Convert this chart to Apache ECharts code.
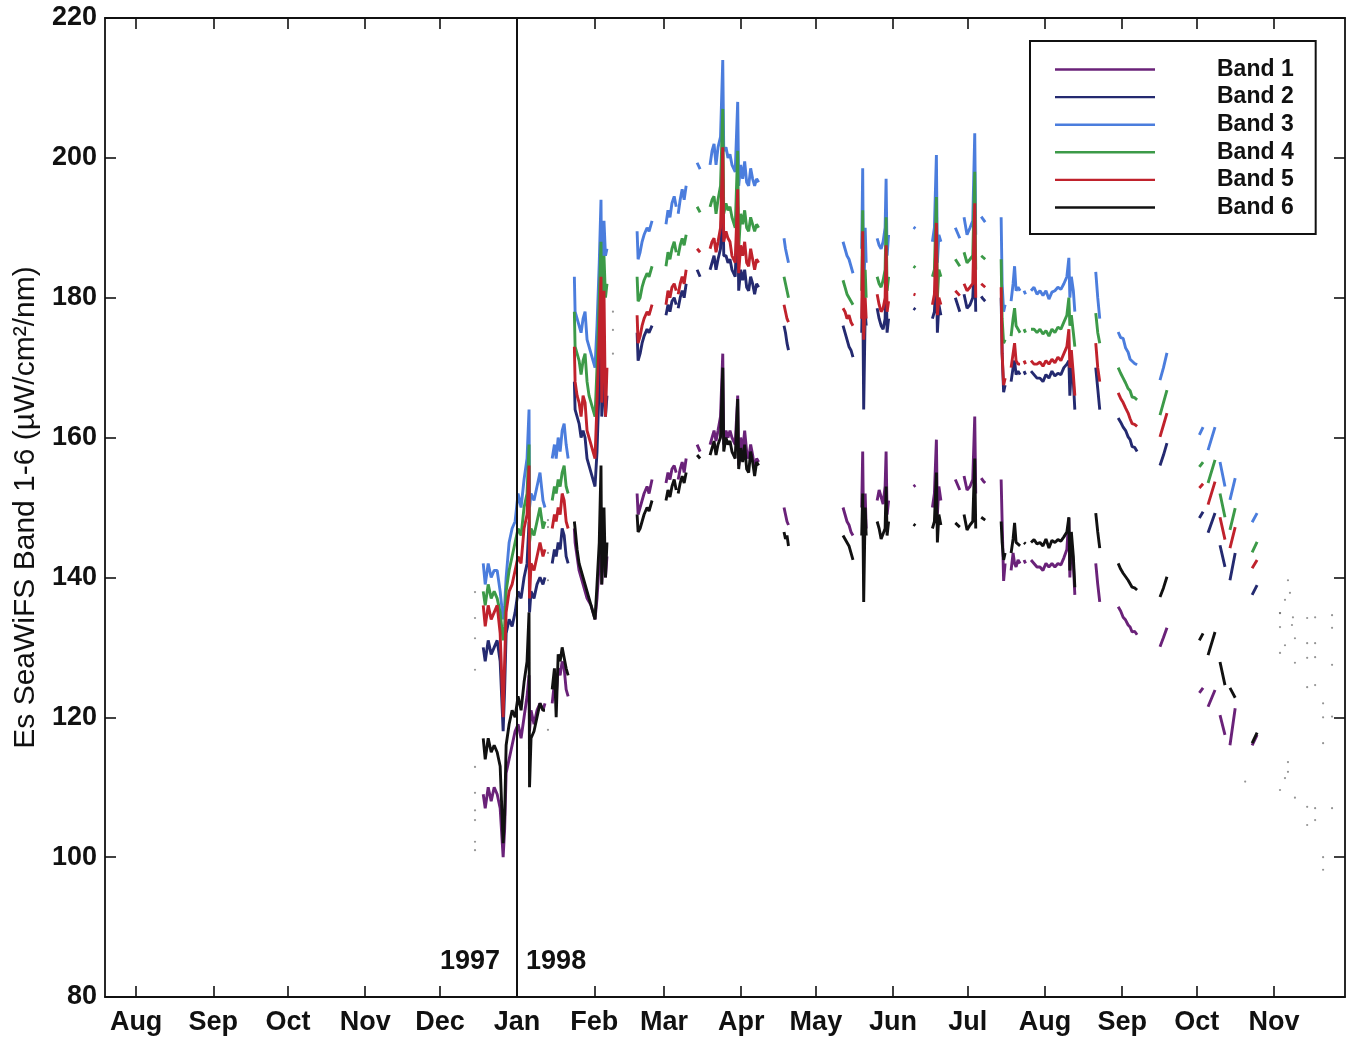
<!DOCTYPE html>
<html>
<head>
<meta charset="utf-8">
<script src="https://cdn.jsdelivr.net/npm/echarts@6/dist/echarts.min.js"></script>
<style>
  html, body { margin: 0; padding: 0; background: #fff; }
  #chart { width: 1353px; height: 1046px; }
</style>
</head>
<body>
<div id="chart"></div>
<script>
// Day numbers count from 1 Jan 1998 (day 0); negative days fall in 1997.
const monthTicks = [-153, -122, -92, -61, -31, 0, 31, 59, 90, 120, 151, 181, 212, 243, 273, 304];
const monthNames = ['Aug', 'Sep', 'Oct', 'Nov', 'Dec', 'Jan', 'Feb', 'Mar', 'Apr', 'May', 'Jun', 'Jul', 'Aug', 'Sep', 'Oct', 'Nov'];
const yearLabels = ['1997', '1998'];
const bandNames = ['Band 1', 'Band 2', 'Band 3', 'Band 4', 'Band 5', 'Band 6'];

// Sampling days of each recorded stretch (stretches are separated by data gaps)
const segDays = [
  [-13.6, -12.8, -11.6, -10.4, -9.2, -8.0, -6.8, -5.6, -5.0, -4.4, -3.2, -2.0, -0.8, 0.4, 1.6, 2.8, 4.0, 4.8, 5.0, 5.6, 6.8, 8.0, 9.2, 10.4, 11.2],
  [14.1, 15.0, 15.7, 16.5, 17.3, 18.1, 18.9, 19.7, 20.5],
  [23.0, 23.3, 24.1, 24.9, 25.7, 26.5, 27.3, 28.1, 28.9, 29.7, 30.5, 31.3, 32.1, 33.0, 33.7, 34.0, 34.9, 35.5, 36.1],
  [48.2, 48.6, 49.4, 50.2, 51.0, 52.2, 53.0, 54.2],
  [59.8, 60.6, 61.4, 62.2, 63.1, 63.9],
  [64.7, 65.5, 66.3, 67.1, 67.9],
  [72.3, 73.5],
  [77.5, 78.3, 79.1, 79.9, 80.7, 81.7, 82.6, 83.0, 83.9, 84.7, 85.5, 86.3, 87.6, 88.6, 89.0, 89.8, 90.6, 91.4, 92.2, 93.0, 93.8, 94.6, 95.4, 96.2, 97.0],
  [107.2, 107.8, 108.4, 109.0],
  [130.9, 131.7, 132.5, 133.3, 134.1, 134.9],
  [138.4, 138.8, 139.2, 139.8, 140.2],
  [144.6, 145.4, 146.2, 147.0, 147.8, 148.2, 148.6, 149.2],
  [159.2, 160.0],
  [166.8, 167.6, 168.4, 168.8, 169.4, 170.2],
  [176.0, 177.8],
  [179.5, 180.7, 181.9, 183.0, 183.8, 184.2],
  [186.4, 187.2, 188.0],
  [194.4, 194.8, 195.4, 196.0],
  [198.4, 199.2, 199.8, 200.4, 201.2, 202.0],
  [203.6, 204.2],
  [206.4, 207.6, 208.8, 210.0, 211.2, 212.4, 213.6, 214.8, 216.0, 217.2, 218.4, 219.6, 220.8, 221.6, 222.0, 222.6, 223.4, 224.0],
  [232.4, 233.2, 234.0],
  [241.4, 242.4, 243.4, 244.4, 245.4, 246.2, 247.0, 248.0, 249.0],
  [258.2, 259.6, 261.0],
  [274.0, 275.5],
  [277.5, 280.3],
  [282.3, 284.3],
  [286.3, 288.4],
  [295.2, 297.2]
];

// Es, µW/cm²/nm, one list per stretch
const band1 = [
  [109, 107, 110, 108, 110, 109, 107, 100, 104, 112, 114, 116, 118, 119, 117, 120, 123, 126, 118, 121, 119, 121, 122, 121, 122],
  [122, 125, 123, 127, 126, 128, 127, 124, 123],
  [147, 145, 143, 141, 140, 139, 138, 137, 137, 136, 135, 134, 137, 142, 150, 139, 146, 140, 143],
  [152, 149, 150, 151, 152, 153, 152, 154],
  [153.5, 155, 154, 155.5, 156, 155],
  [154, 155.5, 156.5, 155, 157],
  [159, 158],
  [159, 160, 161, 159.5, 161, 163, 172, 159, 161, 160, 161, 160, 159, 166, 156, 160, 158, 161, 158, 157, 159, 157.5, 155.5, 157, 156.5],
  [150, 149, 148, 147.5],
  [150, 149, 148, 147.5, 146.5, 146],
  [150, 158, 145, 152, 147],
  [151, 152.5, 151.5, 150.5, 153, 158, 149, 151],
  [153, 153.2],
  [150, 152, 159.7, 149, 153, 151],
  [154, 152.5],
  [154.5, 152.5, 153, 154, 163, 152],
  [154.2, 153.8, 153.5],
  [154, 148, 139.5, 142],
  [141, 143.5, 142, 141.5, 142.5, 142],
  [142.5, 142],
  [142.5, 142, 141.5, 141.5, 141, 142, 141.5, 142, 141.5, 142, 141.8, 142.8, 144, 148.5, 140, 145, 142, 137.5],
  [142, 139, 136.5],
  [135.8, 135.2, 134.3, 133.9, 133.2, 132.9, 132.2, 132.3, 131.8],
  [130.1, 131.4, 132.8],
  [123.5, 124.2],
  [121.5, 123.9],
  [120.3, 117.5],
  [116, 121.3],
  [116, 117.5]
];
const band2 = [
  [130, 128, 131, 129, 130, 131, 128, 118, 124, 132, 134, 133, 135, 138, 137, 140, 142, 148, 135, 138, 137, 139, 140, 139, 140],
  [142, 144, 143, 145, 144, 147, 146, 143, 142],
  [168, 164, 163, 162, 160, 161, 160, 157, 156, 155, 154, 153, 158, 168, 178, 163, 170, 163, 166],
  [175, 171, 172, 173.5, 174.5, 175.5, 175, 176],
  [177.5, 179, 178, 179.5, 180, 179],
  [178.5, 180, 181, 180, 182],
  [184, 183],
  [184, 185, 186, 184, 185.5, 187, 197, 186, 186, 185, 185.5, 184, 183, 193, 181, 184, 182.5, 184, 181.5, 181, 183, 182, 180.5, 182, 181.5],
  [176, 175, 173.5, 172.5],
  [176, 175, 174, 173, 172.5, 171.5],
  [175, 182, 164, 178, 176],
  [178.5, 177, 176, 175.5, 177, 183, 175, 177],
  [178.5, 178.3],
  [177, 178, 184, 175, 179, 177.5],
  [180, 178],
  [180.5, 178.5, 179, 180, 186, 178],
  [180.2, 179.8, 179.5],
  [180, 172, 166.5, 167.5],
  [168, 170, 171, 169, 169.5, 169],
  [169.5, 169],
  [169.5, 169, 168.5, 168.5, 168, 169, 168.5, 169.5, 168.8, 169.2, 169, 170, 170.5, 171, 166, 170, 168, 164],
  [170, 167, 164],
  [162.8, 162.2, 161.5, 161, 160.1, 159.7, 158.7, 158.6, 158],
  [156, 157.5, 159.2],
  [148.5, 149.4],
  [146.4, 149.2],
  [144.6, 141.5],
  [139.6, 143.5],
  [137.5, 138.9]
];
const band3 = [
  [142, 139, 142, 140, 141, 141, 138, 134, 136, 140, 145, 147, 148, 152, 150, 154, 157, 164, 150, 152, 151, 153, 155, 151, 150],
  [157, 159, 157, 160, 158, 161, 162, 159, 157],
  [183, 178, 177, 176, 175, 177, 178, 174, 173, 172, 171, 170, 176, 185, 194, 180, 191, 186, 187],
  [189.5, 185.5, 186.5, 188, 189, 190, 189.5, 191],
  [190.5, 192.5, 191.5, 193.5, 194.5, 193],
  [192, 194, 195.5, 194, 196],
  [199.3, 198.4],
  [199, 201, 202, 199, 201.5, 203, 214, 201, 201.5, 200, 200.5, 199, 198, 208, 196, 199, 197, 199.5, 196.5, 196, 198.5, 197, 196, 197, 196.5],
  [188.5, 187, 186, 185],
  [188, 187, 186, 185.5, 184.5, 183.5],
  [187, 198.5, 178, 190, 185],
  [188.5, 187.5, 187, 188, 190, 197, 186, 189],
  [190.1, 189.9],
  [188, 190, 200.4, 185, 189, 188],
  [190, 188.5],
  [191.5, 189, 190, 191, 203.5, 189],
  [191.6, 191.2, 190.8],
  [191.5, 182, 178, 179],
  [179.5, 182, 184.5, 181, 181.5, 181],
  [181, 180.5],
  [181, 181.5, 180.5, 181, 180.3, 181, 179.8, 180.8, 181, 181.5, 181.2, 182, 183, 185.7, 180, 183, 181, 178],
  [183.7, 180, 177],
  [175.1, 174.3, 174.2, 172.8, 172.2, 171.2, 171, 170.6, 170.4],
  [168.2, 170, 172.1],
  [160.4, 161.5],
  [158.2, 161.5],
  [156.5, 153],
  [151.1, 154.2],
  [147.9, 149.2]
];
const band4 = [
  [138, 136, 139, 137, 138, 137, 135, 131, 133, 138, 141, 143, 145, 147, 146, 150, 152, 159, 145, 147, 146, 148, 150, 147, 148],
  [151, 153, 152, 154, 153, 155, 156, 153, 152],
  [178, 173, 172, 171, 169, 171, 172, 168, 166, 165, 164, 163, 170, 180, 188, 175, 186, 180, 182],
  [183, 179.5, 180, 181.5, 182.5, 183.5, 183, 184.5],
  [184.5, 186.5, 185.5, 187, 188, 186.5],
  [186, 187.5, 188.5, 187.5, 189],
  [193, 192.2],
  [193, 194, 194.5, 192, 194, 196, 207, 192, 193.5, 192.5, 193, 191.5, 190, 201, 187, 192, 190.5, 192.5, 190, 189.5, 191.5, 190.5, 189.5, 190.5, 190],
  [183, 182, 181, 180],
  [182.5, 181.5, 180.5, 180, 179.5, 179],
  [181, 192.5, 175, 184, 180],
  [183, 182, 181.5, 182.5, 184, 191.5, 181, 183],
  [184.5, 184.3],
  [183, 184, 194.4, 180, 184, 183],
  [185.5, 184.5],
  [186.5, 185, 185.5, 186, 198, 184],
  [186, 185.8, 185.5],
  [185.5, 177, 173.5, 174],
  [174.5, 177, 178.5, 176, 175.5, 175],
  [175.5, 175],
  [175.5, 175.5, 175, 175.5, 174.8, 175.3, 174.5, 175.5, 175, 175.8, 175.5, 176.5, 177.5, 180, 176, 177.5, 175, 173],
  [177.8, 175, 173.5],
  [170, 169.2, 168.5, 167.8, 167, 166.7, 165.8, 165.7, 165.4],
  [163.2, 165, 166.8],
  [155.8, 156.5],
  [153.5, 156.8],
  [152, 148.6],
  [146.8, 149.9],
  [143.6, 145.1]
];
const band5 = [
  [136, 133, 136, 134, 135, 136, 132, 120, 128, 135, 138, 139, 141, 143, 142, 147, 149, 156, 137, 142, 141, 143, 145, 143, 144],
  [147, 149, 148, 150, 149, 152, 151, 148, 147],
  [173, 168, 166, 165, 163, 166, 165, 161, 160, 159, 158, 157, 165, 175, 183, 165, 181, 163, 170],
  [177.5, 173.5, 174.5, 176, 177, 178, 177.5, 179],
  [179, 181, 180, 181.5, 182, 181],
  [180.5, 182, 183, 182, 184],
  [187, 186.5],
  [187, 188, 188.5, 186.5, 188, 190, 201.5, 188, 189.5, 188.5, 188, 186, 185, 195.5, 183.5, 187.5, 186, 188, 185, 184.5, 187, 185.5, 184, 185.5, 185],
  [179, 178, 177, 176.5],
  [178.5, 178, 177, 177.5, 176.5, 176],
  [177, 189.5, 174, 180, 177],
  [180.5, 179, 178, 178.5, 180, 187.5, 178, 179.5],
  [180.5, 180.4],
  [179, 180.5, 190.7, 177.5, 180, 179],
  [181, 180.3],
  [182, 181, 181.5, 182, 193.5, 180],
  [182, 181.8, 181.5],
  [181.5, 172, 167.5, 168.5],
  [170, 172, 173.5, 171, 170.5, 170.5],
  [171, 170.5],
  [171, 170.5, 170.5, 170.8, 170.2, 171, 170.5, 171.2, 170.7, 171.5, 171, 172, 173, 175.5, 170, 172.5, 169, 166],
  [173.5, 170, 168],
  [166.4, 165.6, 165, 164.2, 163.5, 162.7, 162, 161.9, 161.6],
  [160.1, 161.8, 163.5],
  [152.8, 153.4],
  [150.4, 153.7],
  [148.6, 145.4],
  [144.2, 147.2],
  [141.3, 142.5]
];
const band6 = [
  [117, 114, 117, 115, 116, 115, 113, 102, 106, 116, 119, 121, 120, 123, 121, 125, 128, 135, 110, 117, 118, 120, 122, 121, 121],
  [124, 127, 120, 129, 128, 130, 130, 127, 126],
  [148, 147, 144, 142, 141, 140, 139, 138, 138, 136, 135, 134, 139, 145, 156, 139, 150, 140, 145],
  [149, 146.5, 147, 148, 149, 150, 149.5, 151],
  [151, 152.5, 151.5, 153, 154, 152.5],
  [152, 153.5, 154.5, 153.5, 155],
  [157.5, 157],
  [157.5, 158.5, 159.5, 157.5, 159, 160, 170, 158, 160, 159, 159.5, 158, 157, 165.5, 155.5, 158.5, 156.5, 159, 155.5, 155, 158, 156.5, 154.5, 156.5, 156],
  [146.5, 145.5, 146, 144.5],
  [146, 145.5, 145, 144.5, 143.5, 142.5],
  [146, 152, 136.5, 150, 146],
  [148, 147, 145.5, 145.5, 147, 153, 146, 148],
  [147.6, 147.4],
  [147, 148, 155, 145, 149, 147.5],
  [147.8, 147.2],
  [149, 146.8, 147.5, 148, 157, 147],
  [148.6, 148.4, 148.2],
  [148, 145, 142.5, 143.5],
  [143.5, 145.5, 147.8, 145, 145, 144.5],
  [145, 144.8],
  [145, 145.4, 144.8, 145, 144.5, 145.5, 144.2, 145.3, 145, 145.4, 145.2, 145.8, 146.5, 148.6, 141, 146.5, 143, 138.6],
  [149.2, 146.5, 144.2],
  [142, 141.2, 140.6, 140.1, 139.6, 139.1, 138.6, 138.5, 138.2],
  [137.2, 138.5, 140.1],
  [131, 132],
  [128.9, 132.2],
  [127.9, 124.6],
  [124.2, 122.8],
  [116.3, 117.8]
];

// Isolated single samples outside the recorded stretches
const dotDays = [-16.9, -16.9, -16.9, -16.9, -16.9, -16.9, -16.9, -16.9, -16.9, -16.9,
  12.4, 12.4, 12.4, 12.4, 12.4, 38.5, 38.5, 38.5,
  306.4, 308.4, 309.6, 310.4, 306.4, 311.6, 306.4, 311.2, 312.4, 308.4, 306.4, 312.4,
  317.3, 320.5, 317.3, 320.5, 317.3, 320.5, 317.3, 320.5, 323.7, 327.3, 323.7, 323.7,
  309.6, 309.6, 308.4, 306.4, 312.4, 317.3, 320.5, 317.3, 320.5, 323.7, 323.7, 327.3, 327.3, 327.3, 327.3, 292.4];
const dotVals = [137.9, 134.2, 131.3, 126.8, 112.9, 109.2, 106.7, 105.3, 102.2, 101,
  148.2, 147.2, 143.5, 139.6, 118.2, 178, 175.4, 172,
  134.9, 136.8, 139.6, 137.8, 132.9, 134.3, 129.2, 133.2, 131.3, 130.3, 134.9, 127.8,
  134.2, 134.3, 130.6, 130.6, 128.5, 128.6, 124.3, 124.6, 122, 120.1, 120, 116.3,
  113.6, 112.2, 111.3, 109.6, 108.5, 107.2, 107, 104.6, 105.3, 100, 98.2, 134.6, 132.8, 127.5, 107, 110.8];

const bandColors = ['#6a2279', '#242a70', '#4b7ddd', '#3c9a48', '#c0222c', '#111111'];
const bandValues = [band1, band2, band3, band4, band5, band6];

function buildSeriesData(values) {
  const out = [];
  segDays.forEach((days, i) => {
    days.forEach((d, j) => out.push([d, values[i][j]]));
    out.push([days[days.length - 1] + 0.3, '-']);
  });
  return out;
}

const FONT = '"Liberation Sans", Arial, Helvetica, sans-serif';
const chart = echarts.init(document.getElementById('chart'), null, { renderer: 'canvas' });

const series = bandNames.map((name, i) => ({
  name,
  type: 'line',
  data: buildSeriesData(bandValues[i]),
  showSymbol: false,
  symbol: 'none',
  connectNulls: false,
  color: bandColors[i],
  lineStyle: { width: 2.9, color: bandColors[i] },
  xAxisIndex: 0,
  yAxisIndex: 0,
  animation: false,
  markLine: i === 5 ? {
    silent: true,
    symbol: 'none',
    label: { show: false },
    lineStyle: { color: '#111', width: 2, type: 'solid' },
    data: [{ xAxis: 0 }]
  } : undefined
}));
series.unshift({
  name: 'samples',
  type: 'scatter',
  data: dotDays.map((d, i) => [d, dotVals[i]]),
  symbolSize: 2.2,
  itemStyle: { color: '#666', opacity: 0.7 },
  animation: false,
  silent: true
});

const tickStyle = { show: true, inside: true, length: 11, lineStyle: { color: '#111', width: 1.6 } };
const lineStyle = { show: true, onZero: false, lineStyle: { color: '#111', width: 1.8 } };

chart.setOption({
  animation: false,
  backgroundColor: '#ffffff',
  textStyle: { fontFamily: FONT },
  grid: { left: 105, right: 8, top: 18, bottom: 49, containLabel: false },
  legend: {
    data: bandNames,
    orient: 'vertical',
    left: 1030,
    top: 41,
    padding: [17, 22, 15, 25],
    borderColor: '#111',
    borderWidth: 2,
    backgroundColor: '#fff',
    icon: 'rect',
    itemWidth: 100,
    itemHeight: 2.4,
    itemGap: 4.6,
    selectedMode: false,
    textStyle: { fontFamily: FONT, fontWeight: 'bold', fontSize: 23, color: '#111', lineHeight: 20, padding: [0, 0, 0, 57] }
  },
  xAxis: [{
    type: 'value',
    min: -165.5,
    max: 332.5,
    position: 'bottom',
    splitLine: { show: false },
    axisLine: lineStyle,
    axisTick: Object.assign({ customValues: monthTicks }, tickStyle),
    axisLabel: {
      customValues: monthTicks,
      margin: 12,
      fontFamily: FONT, fontWeight: 'bold', fontSize: 27, color: '#111',
      formatter: v => monthNames[monthTicks.indexOf(Math.round(v))] || ''
    }
  }, {
    type: 'value',
    min: -165.5,
    max: 332.5,
    position: 'top',
    splitLine: { show: false },
    axisLine: lineStyle,
    axisTick: Object.assign({ customValues: monthTicks }, tickStyle),
    axisLabel: { show: false }
  }],
  yAxis: [{
    type: 'value',
    min: 80,
    max: 220,
    interval: 20,
    position: 'left',
    splitLine: { show: false },
    axisLine: lineStyle,
    axisTick: tickStyle,
    axisLabel: { margin: 8, fontFamily: FONT, fontWeight: 'bold', fontSize: 27, color: '#111' },
    name: 'Es SeaWiFS Band 1-6 (µW/cm²/nm)',
    nameLocation: 'middle',
    nameRotate: 90,
    nameGap: 62,
    nameTextStyle: { fontFamily: FONT, fontSize: 30, color: '#111' }
  }, {
    type: 'value',
    min: 80,
    max: 220,
    interval: 20,
    position: 'right',
    splitLine: { show: false },
    axisLine: lineStyle,
    axisTick: tickStyle,
    axisLabel: { show: false }
  }],
  series
});

// Year captions either side of the 1997/1998 boundary line
const p = chart.convertToPixel({ xAxisIndex: 0, yAxisIndex: 0 }, [0, 85]);
chart.setOption({
  graphic: [
    { type: 'text', x: p[0] - 17, y: p[1], style: { text: yearLabels[0], font: 'bold 27px ' + FONT, fill: '#111', align: 'right', verticalAlign: 'middle' } },
    { type: 'text', x: p[0] + 9, y: p[1], style: { text: yearLabels[1], font: 'bold 27px ' + FONT, fill: '#111', align: 'left', verticalAlign: 'middle' } }
  ]
});
</script>
</body>
</html>
